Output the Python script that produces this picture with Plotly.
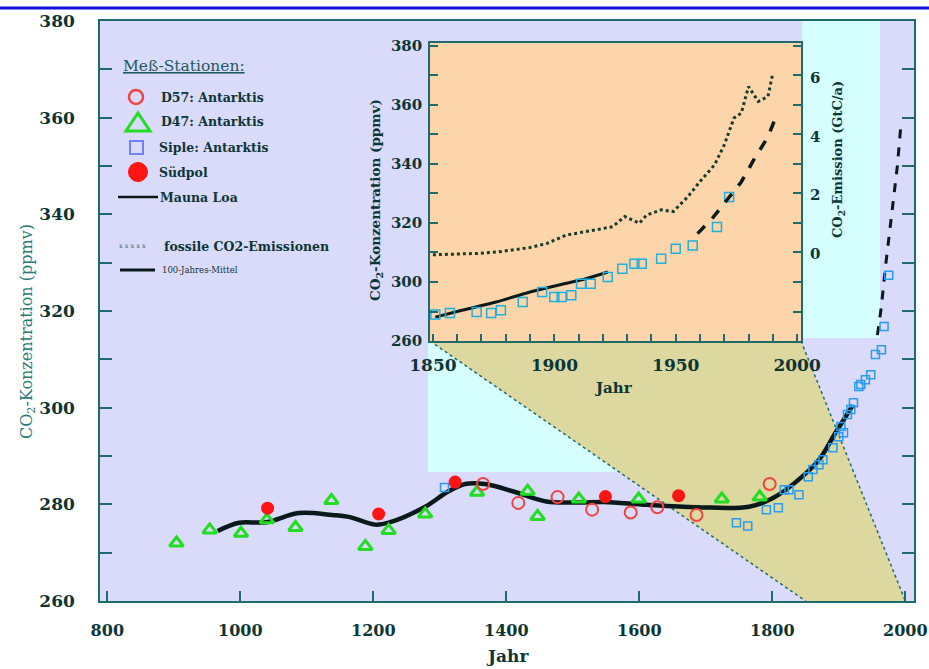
import plotly.graph_objects as go

# ---------------- data ----------------
mean_years = [966, 998, 1039, 1088, 1138, 1163, 1203, 1223, 1278, 1312, 1338, 1368, 1412,
              1460, 1510, 1547, 1611, 1686, 1765, 1801, 1836, 1870, 1895, 1921]
mean_ppm = [274.5, 276.2, 276.3, 278.2, 277.8, 277.4, 275.8, 276.2, 279.5, 282.6, 284.2, 284.2, 282.6,
            280.6, 280.4, 280.5, 279.9, 279.4, 279.5, 281.3, 284.7, 289.2, 294.8, 300.5]

d47_years = [904, 954, 1001, 1040, 1083, 1137, 1188, 1223, 1278, 1356, 1432, 1447, 1509, 1599, 1724, 1781]
d47_ppm = [272.0, 274.7, 274.0, 276.8, 275.2, 280.8, 271.3, 274.6, 278.0, 282.5, 282.7, 277.5,
           281.1, 281.1, 281.1, 281.5]

d57_years = [1365, 1418, 1477, 1529, 1587, 1627, 1686, 1796]
d57_ppm = [284.2, 280.3, 281.5, 278.9, 278.3, 279.4, 277.8, 284.2]

sudpol_years = [1041, 1208, 1323, 1549, 1659]
sudpol_ppm = [279.2, 278.0, 284.6, 281.6, 281.8]

siple_years = [1307, 1746, 1763, 1791, 1809, 1818, 1825, 1840, 1854, 1861, 1870, 1876, 1891, 1900,
               1903, 1907, 1913, 1918, 1922, 1930, 1933, 1940, 1948, 1955, 1964, 1968, 1975]
siple_ppm = [283.5, 276.2, 275.5, 278.9, 279.3, 283.0, 283.0, 282.0, 285.7, 287.2, 288.2, 289.2, 291.7,
             294.0, 296.1, 294.8, 298.6, 299.6, 301.0, 304.4, 304.8, 305.8, 306.8, 311.0, 312.0, 316.8, 327.4]

mlo_years = [1958, 1964, 1970, 1976, 1982, 1988, 1993]
mlo_ppm = [315.0, 321.0, 329.0, 336.0, 343.0, 350.0, 358.0]

# inset (1850-2000)
in_mean_years = [1851, 1862, 1876, 1890, 1904, 1913, 1922]
in_mean_ppm = [288.1, 290.4, 293.2, 296.6, 299.4, 301.1, 303.4]

in_siple_years = [1851, 1857, 1868, 1874, 1878, 1887, 1895, 1900, 1903, 1907, 1911, 1915, 1922,
                  1928, 1933, 1936, 1944, 1950, 1957, 1967, 1972]
in_siple_ppm = [289.0, 289.5, 289.8, 289.5, 290.4, 293.2, 296.6, 294.9, 294.9, 295.5, 299.4, 299.4,
                301.7, 304.5, 306.2, 306.2, 307.9, 311.3, 312.4, 318.6, 328.8]

in_mlo_years = [1959, 1965, 1971, 1977, 1982, 1988, 1991]
in_mlo_ppm = [316.4, 321.5, 327.7, 333.9, 341.2, 349.2, 355.4]

emis_years = [1850, 1860, 1869, 1877, 1883, 1890, 1897, 1905, 1910, 1916, 1924, 1929, 1935,
              1938, 1944, 1949, 1955, 1960, 1966, 1970, 1974, 1977, 1980, 1984, 1988, 1990]
emis_gtc = [-0.05, -0.03, 0.0, 0.05, 0.11, 0.2, 0.34, 0.63, 0.7, 0.8, 0.91, 1.26, 1.03,
            1.31, 1.49, 1.43, 1.94, 2.46, 3.03, 3.71, 4.63, 4.8, 5.71, 5.2, 5.37, 6.17]

main_xticks = [800, 1000, 1200, 1400, 1600, 1800, 2000]
main_yticks = [260, 280, 300, 320, 340, 360, 380]
inset_xticks = [1850, 1900, 1950, 2000]
inset_yticks = [280, 300, 320, 340, 360, 380]
inset_ytext = ['260', '300', '320', '340', '360', '380']
emis_ticks = [0, 2, 4, 6]

# ---------------- styling ----------------
W, H = 929, 669
L, R, T, B = 100, 15, 21, 68
PW, PH = W - L - R, H - T - B
XR = [789, 2013]
YR = [260, 380]
INX = [1848.8, 2001.6]
INY = [280, 381]
EMR = [-3.0, 7.2]

LAV = '#dadafa'
CYAN = '#d6ffff'
KHAKI = '#dcd8a0'
ORANGE = '#fcd6aa'
TEAL = '#1f6b6b'
DARK = '#0c3636'
FONT = 'DejaVu Serif'

def px(x):
    return (x - L) / PW

def py(y):
    return (H - B - y) / PH

def data_px(year):
    return L + (year - XR[0]) / (XR[1] - XR[0]) * PW

# inset domain in pixels
IX0, IX1, IY0, IY1 = 430, 801, 43, 341

fig = go.Figure()

# main subplot
fig.add_trace(go.Scatter(x=mean_years, y=mean_ppm, mode='lines', line=dict(color='#0a1a1a', width=4.5, shape='spline'),
                         showlegend=False))
fig.add_trace(go.Scatter(x=mlo_years, y=mlo_ppm, mode='lines', line=dict(color='#0a1a1a', width=3, dash='dash'),
                         showlegend=False))
fig.add_trace(go.Scatter(x=siple_years, y=siple_ppm, mode='markers',
                         marker=dict(symbol='square-open', size=8, color='#2a9cf0', line=dict(width=1.5)),
                         showlegend=False))
fig.add_trace(go.Scatter(x=d47_years, y=d47_ppm, mode='markers',
                         marker=dict(symbol='triangle-up-open', size=12, color='#22dd22', line=dict(width=3)),
                         showlegend=False))
fig.add_trace(go.Scatter(x=d57_years, y=d57_ppm, mode='markers',
                         marker=dict(symbol='circle-open', size=12, color='#ee4444', line=dict(width=2)),
                         showlegend=False))
fig.add_trace(go.Scatter(x=sudpol_years, y=sudpol_ppm, mode='markers',
                         marker=dict(symbol='circle', size=13, color='#ff1414'),
                         showlegend=False))

# inset subplot
fig.add_trace(go.Scatter(x=in_mean_years, y=in_mean_ppm, mode='lines', xaxis='x2', yaxis='y2',
                         line=dict(color='#0a1a1a', width=3, shape='spline'), showlegend=False))
fig.add_trace(go.Scatter(x=in_siple_years, y=in_siple_ppm, mode='markers', xaxis='x2', yaxis='y2',
                         marker=dict(symbol='square-open', size=9, color='#1eb0e0', line=dict(width=1.5)),
                         showlegend=False))
fig.add_trace(go.Scatter(x=in_mlo_years, y=in_mlo_ppm, mode='lines', xaxis='x2', yaxis='y2',
                         line=dict(color='#0a1a1a', width=3.5, dash='dash'), showlegend=False))
fig.add_trace(go.Scatter(x=emis_years, y=emis_gtc, mode='lines', xaxis='x2', yaxis='y3',
                         line=dict(color='#1a3a2a', width=3, dash='dot'), showlegend=False))

# ---------------- background shapes ----------------
shapes = []
shapes.append(dict(type='rect', xref='paper', yref='paper', x0=0, x1=1, y0=0, y1=1,
                   fillcolor=LAV, line=dict(width=0), layer='below'))
kx_left_bottom = data_px(1850)
kx_right_bottom = data_px(2000)
slope = (kx_left_bottom - IX0) / ((H - B) - IY1)
cy_bot = 472
cx_cut = IX0 + slope * (cy_bot - IY1)
cyan_path = (f"M {px(802)} {py(T)} L {px(880)} {py(T)} L {px(880)} {py(338)} L {px(802)} {py(338)} Z "
             f"M {px(428)} {py(IY1)} L {px(IX0)} {py(IY1)} L {px(cx_cut)} {py(cy_bot)} L {px(428)} {py(cy_bot)} Z")
shapes.append(dict(type='path', xref='paper', yref='paper', path=cyan_path,
                   fillcolor=CYAN, line=dict(width=0), layer='below'))
kh_path = (f"M {px(IX0)} {py(IY1)} L {px(IX1)} {py(IY1)} L {px(kx_right_bottom)} {py(H - B)} "
           f"L {px(kx_left_bottom)} {py(H - B)} Z")
shapes.append(dict(type='path', xref='paper', yref='paper', path=kh_path,
                   fillcolor=KHAKI, line=dict(width=0), layer='below'))
for (xa, ya, xb, yb) in [(IX0, IY1, kx_left_bottom, H - B), (IX1, IY1, kx_right_bottom, H - B)]:
    shapes.append(dict(type='line', xref='paper', yref='paper', x0=px(xa), y0=py(ya), x1=px(xb), y1=py(yb),
                       line=dict(color=TEAL, width=1.5, dash='dot'), layer='below'))
shapes.append(dict(type='rect', xref='paper', yref='paper', x0=px(IX0), x1=px(IX1), y0=py(IY1), y1=py(IY0),
                   fillcolor=ORANGE, line=dict(width=0), layer='below'))
shapes.append(dict(type='line', xref='paper', yref='paper', x0=px(0), x1=px(W), y0=py(8), y1=py(8),
                   line=dict(color='#1010e0', width=3)))

# ---------------- legend (drawn manually) ----------------
def circ(cx, cy, r, **kw):
    return dict(type='circle', xref='paper', yref='paper', x0=px(cx - r), x1=px(cx + r),
                y0=py(cy + r), y1=py(cy - r), **kw)

shapes.append(circ(136, 97, 7, line=dict(color='#ee4444', width=2.5)))
shapes.append(dict(type='path', xref='paper', yref='paper',
                   path=f"M {px(126)} {py(131)} L {px(150)} {py(131)} L {px(138)} {py(113)} Z",
                   line=dict(color='#22dd22', width=3)))
shapes.append(dict(type='rect', xref='paper', yref='paper', x0=px(130), x1=px(143), y0=py(154), y1=py(141),
                   line=dict(color='#7080ff', width=2)))
shapes.append(circ(138, 172, 9.5, fillcolor='#ff1414', line=dict(color='#ff1414', width=1)))
shapes.append(dict(type='line', xref='paper', yref='paper', x0=px(118), x1=px(158), y0=py(197), y1=py(197),
                   line=dict(color='#0a1a1a', width=2.5)))
shapes.append(dict(type='line', xref='paper', yref='paper', x0=px(120), x1=px(155), y0=py(270), y1=py(270),
                   line=dict(color='#0a1a1a', width=3)))

ann = []
def text(x, y, s, size, color=DARK, bold=True, xanchor='left', angle=0, family=FONT):
    ann.append(dict(x=px(x), y=py(y), xref='paper', yref='paper', text=s, showarrow=False,
                    xanchor=xanchor, yanchor='middle', textangle=angle,
                    font=dict(family=family, size=size, color=color, weight='bold' if bold else 'normal')))

text(121, 66, '<u>Meß-Stationen:</u>', 15.5, color='#1d5a5a', bold=False)
text(159, 97, 'D57: Antarktis', 12.5)
text(159, 122, 'D47: Antarktis', 12.5)
text(157, 147, 'Siple: Antarktis', 12.5)
text(157, 172, 'Südpol', 12.5)
text(158, 197, 'Mauna Loa', 12.5)
text(117, 246, 'x x x x x', 6.5, color='#2a5a5a', bold=False)
text(162, 246, 'fossile CO2-Emissionen', 12.5)
text(160, 270, '100-Jahres-Mittel', 8.5, bold=False)

text(27, 332, 'CO<sub>2</sub>-Konzentration (ppmv)', 16, color='#2a7a7a', bold=False, xanchor='center', angle=-90)
text(507, 656, 'Jahr', 17, xanchor='center')
text(376, 200, 'CO<sub>2</sub>-Konzentration (ppmv)', 13.5, xanchor='center', angle=-90)
text(613, 388, 'Jahr', 15, xanchor='center')
text(838, 160, 'CO<sub>2</sub>-Emission (GtC/a)', 13, xanchor='center', angle=-90)

tickfont_x = dict(family=FONT, size=16, color=DARK, weight='bold')
tickfont_main = dict(family=FONT, size=17, color=DARK, weight='bold')
tickfont_in = dict(family=FONT, size=15, color=DARK, weight='bold')

fig.update_layout(
    width=W, height=H, autosize=False,
    margin=dict(l=L, r=R, t=T, b=B, pad=0, autoexpand=False),
    paper_bgcolor='white',
    plot_bgcolor='rgba(0,0,0,0)',
    showlegend=False,
    shapes=shapes,
    annotations=ann,
    xaxis=dict(domain=[0, 1], range=XR, tickvals=main_xticks, ticks='inside', ticklen=10, tickwidth=1.5,
               tickcolor=TEAL, showline=True, linecolor=TEAL, linewidth=1.5, mirror=True, showgrid=False,
               zeroline=False, tickfont=tickfont_x, ticklabelstandoff=14, automargin=False,
               ticklabeloverflow='allow'),
    yaxis=dict(domain=[0, 1], range=YR, tickvals=main_yticks, ticks='inside', ticklen=12, tickwidth=1.5,
               tickcolor=TEAL, showline=True, linecolor=TEAL, linewidth=1.5, mirror='ticks', showgrid=False,
               zeroline=False, tickfont=tickfont_main, ticklabelstandoff=20, automargin=False,
               ticklabeloverflow='allow',
               minor=dict(dtick=10, tick0=260, ticks='inside', ticklen=12, tickwidth=1.5, tickcolor=TEAL,
                          showgrid=False)),
    xaxis2=dict(domain=[px(IX0), px(IX1)], anchor='y2', range=INX, tickvals=inset_xticks, ticks='inside',
                ticklen=7, tickwidth=1.5, tickcolor=TEAL, showline=True, linecolor=TEAL, linewidth=1.5,
                mirror=True, showgrid=False, zeroline=False, automargin=False, ticklabeloverflow='allow',
                tickfont=dict(family=FONT, size=17, color=DARK, weight='bold'), ticklabelstandoff=8,
                minor=dict(dtick=10, tick0=1850, ticks='inside', ticklen=7, tickwidth=1.5, tickcolor=TEAL,
                           showgrid=False)),
    yaxis2=dict(domain=[py(IY1), py(IY0)], anchor='x2', range=INY, tickvals=inset_yticks, ticktext=inset_ytext,
                ticks='inside', ticklen=8, tickwidth=1.5, tickcolor=TEAL, showline=True, linecolor=TEAL,
                linewidth=1.5, mirror='ticks', showgrid=False, zeroline=False, tickfont=tickfont_in,
                ticklabelstandoff=3, automargin=False, ticklabeloverflow='allow',
                minor=dict(dtick=10, tick0=280, ticks='inside', ticklen=8, tickwidth=1.5, tickcolor=TEAL,
                           showgrid=False)),
    yaxis3=dict(overlaying='y2', anchor='x2', side='right', range=EMR, tickvals=emis_ticks, ticks='',
                showline=False, showgrid=False, zeroline=False, tickfont=tickfont_in, ticklabelstandoff=8,
                automargin=False, ticklabeloverflow='allow'),
)

post = ("document.body.style.margin='0px';document.body.style.overflow='hidden';"
        "var gd=document.getElementById('{plot_id}');gd.style.width='929px';gd.style.height='669px';"
        "Plotly.relayout(gd,{width:929,height:669});")

fig.write_html('out.html', config={'responsive': False, 'displayModeBar': False}, post_script=post)
